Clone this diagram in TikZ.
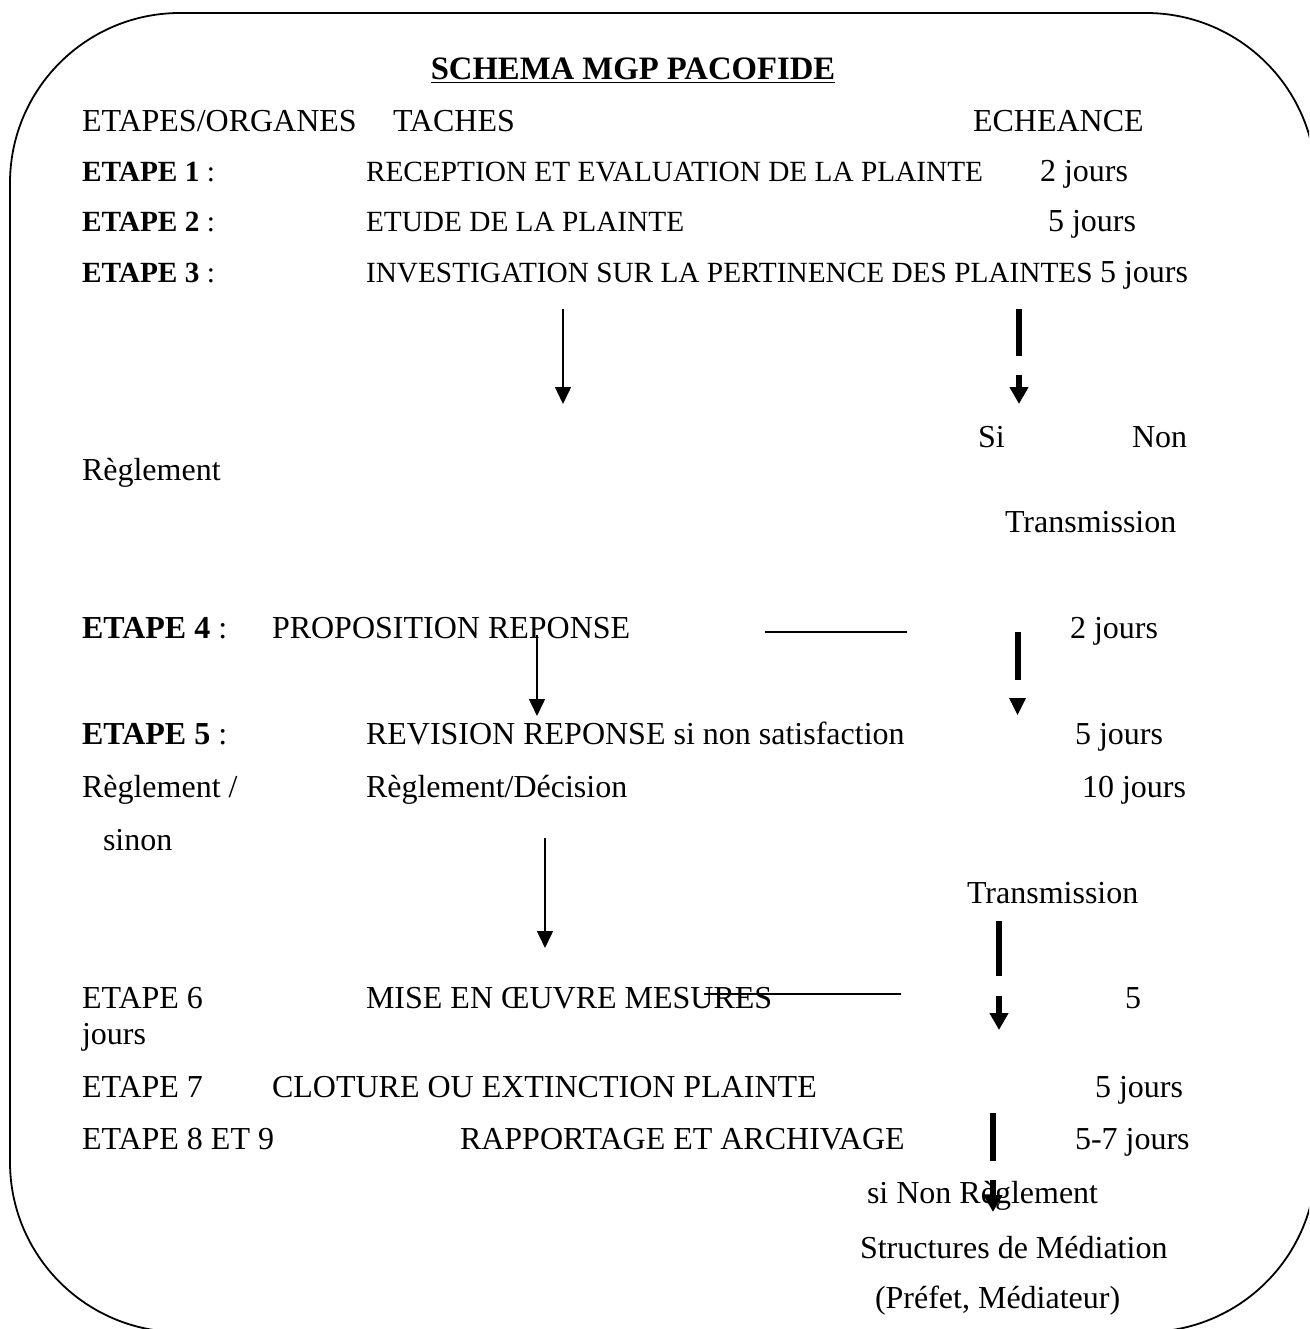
\documentclass[tikz,border=0pt]{standalone}
\usepackage{fontspec}
\setmainfont{Liberation Serif}
\usetikzlibrary{arrows.meta}
\begin{document}
\begin{tikzpicture}[x=1pt,y=-1pt,
  txt/.style={anchor=base west, inner sep=0pt, outer sep=0pt, font=\fontsize{32}{38}\selectfont},
  smalltxt/.style={txt, font=\fontsize{29.3}{35}\selectfont},
  thinarrow/.style={line width=1.5pt, -{Triangle[length=17pt 0 0,width=16pt 0 0]}},
  thinline/.style={line width=1.5pt},
  thickbar/.style={line width=6pt},
  thickarrow/.style={line width=6pt, -{Triangle[length=17pt 0 0,width=18pt 0 0]}},
  frame/.style={line width=1.8pt, rounded corners=170pt}]
\useasboundingbox (0,0) rectangle (1309,1329);
\begin{scope}
  \clip (0,0) rectangle (1309,1329);
  \draw[frame] (10,13) rectangle (1316,1332);
\end{scope}

% title
\node[txt, anchor=base, font=\fontsize{32.7}{38}\selectfont\bfseries] (title) at (633,80) {\underline{SCHEMA MGP PACOFIDE}};

% header
\node[txt] (h1) at (82,132) {ETAPES/ORGANES};
\node[txt] (h2) at (393,132) {TACHES};
\node[txt] (h3) at (973,132) {ECHEANCE};

% rows 1-3
\node[smalltxt] (e1) at (82,182) {\textbf{ETAPE 1} :};
\node[smalltxt] (t1) at (366,182) {RECEPTION ET EVALUATION DE LA PLAINTE};
\node[txt] (d1) at (1040,182) {2 jours};
\node[smalltxt] (e2) at (82,232) {\textbf{ETAPE 2} :};
\node[smalltxt] (t2) at (366,232) {ETUDE DE LA PLAINTE};
\node[txt] (d2) at (1048,232) {5 jours};
\node[smalltxt] (e3) at (82,283) {\textbf{ETAPE 3} :};
\node[smalltxt] (t3) at (366,283) {INVESTIGATION SUR LA PERTINENCE DES PLAINTES};
\node[txt] (d3) at (1100,283) {5 jours};

\node[txt] (si) at (978,447) {Si};
\node[txt] (non) at (1132,447) {Non};
\node[txt] (regl1) at (82,480) {Règlement};
\node[txt] (trans1) at (1005,532) {Transmission};

% row 4
\node[txt] (e4) at (82,638) {\textbf{ETAPE 4} :};
\node[txt] (t4) at (272,638) {PROPOSITION REPONSE};
\node[txt] (d4) at (1070,638) {2 jours};

% row 5
\node[txt] (e5) at (82,744) {\textbf{ETAPE 5} :};
\node[txt] (t5) at (366,744) {REVISION REPONSE si non satisfaction};
\node[txt] (d5) at (1075,744) {5 jours};
\node[txt] (regl2) at (82,797) {Règlement /};
\node[txt] (t5b) at (366,797) {Règlement/Décision};
\node[txt] (d5b) at (1082,797) {10 jours};
\node[txt] (sinon) at (103,850) {sinon};
\node[txt] (trans2) at (967,903) {Transmission};

% row 6
\node[txt] (e6) at (82,1008) {ETAPE 6};
\node[txt] (t6) at (366,1008) {MISE EN ŒUVRE MESURES};
\node[txt] (d6) at (1125,1008) {5};
\node[txt] (d6b) at (82,1044) {jours};

% row 7
\node[txt] (e7) at (82,1097) {ETAPE 7};
\node[txt] (t7) at (272,1097) {CLOTURE OU EXTINCTION PLAINTE};
\node[txt] (d7) at (1095,1097) {5 jours};

% row 8-9
\node[txt] (e8) at (82,1149) {ETAPE 8 ET 9};
\node[txt] (t8) at (460,1149) {RAPPORTAGE ET ARCHIVAGE};
\node[txt] (d8) at (1075,1149) {5-7 jours};

\node[txt] (snr) at (867,1203) {si Non Règlement};
\node[txt] (struct) at (860,1258) {Structures de Médiation};
\node[txt] (pref) at (875,1308) {(Préfet, Médiateur)};

% arrows and lines
\coordinate (a1s) at (563,309); \coordinate (a1e) at (563,404);
\draw[thinarrow] (a1s) -- (a1e);

\coordinate (b1s) at (1019,309); \coordinate (b1e) at (1019,356);
\draw[thickbar] (b1s) -- (b1e);
\coordinate (c1s) at (1019,375); \coordinate (c1e) at (1019,404);
\draw[thickarrow] (c1s) -- (c1e);

\coordinate (l1s) at (765,632); \coordinate (l1e) at (907,632);
\draw[thinline] (l1s) -- (l1e);

\coordinate (b2s) at (1018,632); \coordinate (b2e) at (1018,680);
\draw[thickbar] (b2s) -- (b2e);
\fill (1009,698) -- (1026,698) -- (1017.5,715) -- cycle;

\coordinate (a2s) at (537,635); \coordinate (a2e) at (537,716);
\draw[thinarrow] (a2s) -- (a2e);

\coordinate (a3s) at (545,838); \coordinate (a3e) at (545,948);
\draw[thinarrow] (a3s) -- (a3e);

\coordinate (b3s) at (999,921); \coordinate (b3e) at (999,976);
\draw[thickbar] (b3s) -- (b3e);
\coordinate (c3s) at (999,996); \coordinate (c3e) at (999,1030);
\draw[thickarrow] (c3s) -- (c3e);

\coordinate (l2s) at (704,994); \coordinate (l2e) at (901,994);
\draw[thinline] (l2s) -- (l2e);

\coordinate (b4s) at (993,1113); \coordinate (b4e) at (993,1161);
\draw[thickbar] (b4s) -- (b4e);
\coordinate (c4s) at (993,1180); \coordinate (c4e) at (993,1212);
\draw[thickarrow] (c4s) -- (c4e);
\end{tikzpicture}
\end{document}
